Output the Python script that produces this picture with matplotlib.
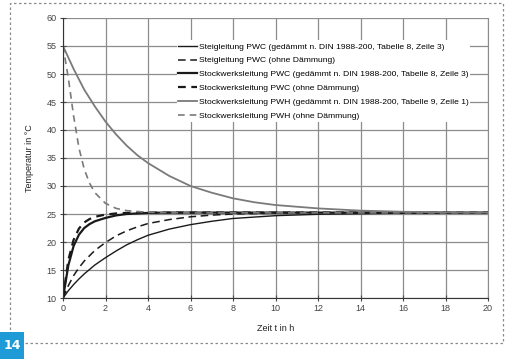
import matplotlib
matplotlib.use("Agg")
import matplotlib.pyplot as plt
from matplotlib.patches import Rectangle

plt.rcParams['font.family'] = ['Liberation Sans Narrow', 'Liberation Sans', 'DejaVu Sans']

# time axis readings (h)
t_pwh = [0, 0.5, 1, 1.5, 2, 2.5, 3, 3.5, 4, 5, 6, 7, 8, 9, 10, 12, 14, 16, 18, 20]
pwh_insulated = [55, 50.9, 47.2, 44.2, 41.5, 39.2, 37.2, 35.5, 34.1, 31.8, 30.0, 28.8, 27.8, 27.1, 26.6, 26.0, 25.6, 25.4, 25.3, 25.25]

t_fast = [0, 0.25, 0.5, 0.75, 1, 1.25, 1.5, 2, 2.5, 3, 4, 5, 6, 8, 10, 14, 20]
pwh_bare = [55, 49.3, 42.5, 36.8, 33.0, 30.5, 28.8, 26.9, 26.0, 25.6, 25.3, 25.25, 25.2, 25.2, 25.2, 25.2, 25.2]
floor_pwc_insulated = [10, 15.8, 19.3, 21.3, 22.5, 23.2, 23.7, 24.3, 24.75, 25.0, 25.2, 25.25, 25.25, 25.25, 25.25, 25.25, 25.25]
floor_pwc_bare = [10, 16.8, 20.4, 22.4, 23.5, 24.1, 24.5, 24.9, 25.1, 25.2, 25.25, 25.25, 25.25, 25.25, 25.25, 25.25, 25.25]

t_slow = [0, 0.25, 0.5, 0.75, 1, 1.5, 2, 2.5, 3, 3.5, 4, 5, 6, 7, 8, 10, 12, 14, 16, 20]
riser_pwc_insulated = [10, 11.3, 12.4, 13.4, 14.3, 15.9, 17.2, 18.4, 19.5, 20.4, 21.2, 22.3, 23.1, 23.7, 24.2, 24.7, 24.95, 25.05, 25.15, 25.2]
riser_pwc_bare = [10, 12.2, 14.0, 15.4, 16.6, 18.5, 19.9, 21.1, 22.0, 22.7, 23.3, 24.0, 24.5, 24.8, 25.0, 25.15, 25.2, 25.2, 25.2, 25.2]

labels = [
    "Steigleitung PWC (gedämmt n. DIN 1988-200, Tabelle 8, Zeile 3)",
    "Steigleitung PWC (ohne Dämmung)",
    "Stockwerksleitung PWC (gedämmt n. DIN 1988-200, Tabelle 8, Zeile 3)",
    "Stockwerksleitung PWC (ohne Dämmung)",
    "Stockwerksleitung PWH (gedämmt n. DIN 1988-200, Tabelle 9, Zeile 1)",
    "Stockwerksleitung PWH (ohne Dämmung)",
]
x_ticks = [0, 2, 4, 6, 8, 10, 12, 14, 16, 18, 20]
y_ticks = [10, 15, 20, 25, 30, 35, 40, 45, 50, 55, 60]

W, H = 506, 359
AX_L, AX_R, AX_T, AX_B = 63, 488, 18, 298
fig = plt.figure(figsize=(W / 100, H / 100), dpi=100)
ax = fig.add_axes([AX_L/W, 1 - AX_B/H, (AX_R - AX_L)/W, (AX_B - AX_T)/H])

blk = '#1a1a1a'
gry = '#7a7a7a'
ax.plot(t_slow, riser_pwc_insulated, color=blk, lw=1.0, label=labels[0])
ax.plot(t_slow, riser_pwc_bare, color=blk, lw=1.1, ls=(0, (5, 3)), label=labels[1])
ax.plot(t_fast, floor_pwc_insulated, color=blk, lw=1.6, label=labels[2])
ax.plot(t_fast, floor_pwc_bare, color=blk, lw=1.6, ls=(0, (3.5, 2.5)), label=labels[3])
ax.plot(t_pwh, pwh_insulated, color=gry, lw=1.3, label=labels[4])
ax.plot(t_fast, pwh_bare, color=gry, lw=1.2, ls=(0, (4, 3)), label=labels[5])

ax.set_xlim(0, 20)
ax.set_ylim(10, 60)
ax.set_xticks(x_ticks)
ax.set_yticks(y_ticks)
ax.grid(True, color='#8c8c8c', lw=0.9)
ax.set_axisbelow(True)
ax.spines['top'].set_visible(False)
ax.spines['right'].set_color('#8c8c8c')
ax.spines['left'].set_color('#333333')
ax.spines['bottom'].set_color('#333333')
ax.tick_params(axis='both', labelsize=6.5, colors='#444444', length=5, width=0.8,
               direction='inout', pad=2)
ax.set_xlabel("Zeit t in h", fontsize=6.5, color='#222222', labelpad=8)
ax.set_ylabel("Temperatur in °C", fontsize=6.5, color='#222222', labelpad=9)

# white area behind the legend (axes coordinates)
aw, ah = AX_R - AX_L, AX_B - AX_T
ax.add_patch(Rectangle(((177 - AX_L)/aw, (AX_B - 122)/ah), (470 - 177)/aw, (122 - 40)/ah,
                       transform=ax.transAxes, facecolor='white',
                       edgecolor='none', zorder=1.8))

leg = ax.legend(loc='upper left', bbox_to_anchor=(176/W, 1 - 41/H),
                bbox_transform=fig.transFigure, fontsize=6.1,
                frameon=False, handlelength=2.3, handletextpad=0.2,
                labelspacing=0.7, borderpad=0.2, borderaxespad=0)

# outer dotted frame
fig.patches.append(Rectangle((10/W, 1 - 343/H), (503 - 10)/W, (343 - 3)/H,
                             transform=fig.transFigure, fill=False,
                             edgecolor='#8a8a8a', lw=0.9, ls=(0, (2, 2))))
# blue number box
fig.patches.append(Rectangle((0, 0), 24/W, 27/H, transform=fig.transFigure,
                             facecolor='#1e9ad6', edgecolor='none'))
fig.text(12/W, 13.5/H, "14", color='white', fontsize=9, fontweight='bold',
         ha='center', va='center', family=['Liberation Sans Narrow', 'DejaVu Sans'])

fig.savefig("out.png", dpi=100, facecolor='white')
